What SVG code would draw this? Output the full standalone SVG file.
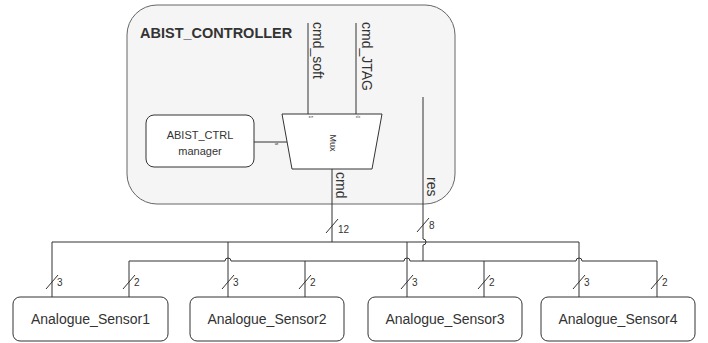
<svg xmlns="http://www.w3.org/2000/svg" width="708" height="343" viewBox="0 0 708 343">
<style>
.box{fill:#fff;stroke:#333;stroke-width:1}
.w{fill:none;stroke:#333;stroke-width:1}
.t{font-family:"Liberation Sans",Arial,sans-serif;fill:#333}
.lbl{font-family:"Liberation Sans",Arial,sans-serif;fill:#333;font-size:14px}
.n{font-family:"Liberation Sans",Arial,sans-serif;fill:#333;font-size:10px}
</style>
<rect width="708" height="343" fill="#fff"/>
<g id="abist_controller">
<rect x="127" y="5" width="328" height="199" rx="30" ry="30" fill="#f5f5f5" stroke="#666"/>
<text class="t" x="140" y="38" font-size="14.5" font-weight="bold">ABIST_CONTROLLER</text>
</g>
<g id="abist_ctrl_manager">
<rect class="box" x="146" y="115" width="108" height="52" rx="8" ry="8"/>
<text class="t" x="200" y="139" font-size="11" text-anchor="middle">ABIST_CTRL</text>
<text class="t" x="200" y="155" font-size="11" text-anchor="middle">manager</text>
</g>
<g id="mux">
<path class="box" d="M282,114 H382 L372,169 H292 Z"/>
<text class="t" font-size="9" text-anchor="middle" transform="translate(330,143) rotate(90)">Mux</text>
<text class="t" font-size="5" text-anchor="middle" transform="translate(309,117) rotate(90)">1</text>
<text class="t" font-size="5" text-anchor="middle" transform="translate(356,117) rotate(90)">0</text>
<text class="t" font-size="5" text-anchor="middle" transform="translate(275,144) rotate(90)">s</text>
</g>
<g id="sensor1">
<rect class="box" x="13" y="297" width="155" height="44" rx="7" ry="7"/>
<text class="t" x="90.5" y="324" font-size="14" text-anchor="middle">Analogue_Sensor1</text>
</g>
<g id="sensor2">
<rect class="box" x="190" y="297" width="154" height="44" rx="7" ry="7"/>
<text class="t" x="267" y="324" font-size="14" text-anchor="middle">Analogue_Sensor2</text>
</g>
<g id="sensor3">
<rect class="box" x="368" y="297" width="154" height="44" rx="7" ry="7"/>
<text class="t" x="445" y="324" font-size="14" text-anchor="middle">Analogue_Sensor3</text>
</g>
<g id="sensor4">
<rect class="box" x="541" y="297" width="154" height="44" rx="7" ry="7"/>
<text class="t" x="618" y="324" font-size="14" text-anchor="middle">Analogue_Sensor4</text>
</g>
<g id="connectors">
<path class="w" d="M308,23 V114"/>
<path class="w" d="M356,23 V114"/>
<path class="w" d="M254,142 H287"/>
<path class="w" d="M332,169 V242"/>
<path class="w" d="M52,297 V242 H579 V297"/>
<path class="w" d="M228,242 V297"/>
<path class="w" d="M407,242 V297"/>
<path class="w" d="M423,97 V239 a3,3 0 0 1 0,6 V261"/>
<path class="w" d="M129,297 V261 H225 a3,3 0 0 1 6,0 H404 a3,3 0 0 1 6,0 H576 a3,3 0 0 1 6,0 H657 V297"/>
<path class="w" d="M305,261 V297"/>
<path class="w" d="M484,261 V297"/>
<text class="lbl" transform="translate(313,22) rotate(90)">cmd_soft</text>
<text class="lbl" transform="translate(362,22) rotate(90)">cmd_JTAG</text>
<text class="lbl" transform="translate(336,172) rotate(90)">cmd</text>
<text class="lbl" transform="translate(427,177) rotate(90)">res</text>
<path class="w" d="M326,233 L338,219"/>
<text class="n" x="338" y="233">12</text>
<path class="w" d="M417,232 L429,218"/>
<text class="n" x="429" y="229">8</text>
<path class="w" d="M46,289 L58,275 M123,289 L135,275 M222,289 L234,275 M299,289 L311,275 M401,289 L413,275 M478,289 L490,275 M573,289 L585,275 M651,289 L663,275"/>
<text class="n" x="57" y="286">3</text>
<text class="n" x="134" y="286">2</text>
<text class="n" x="233" y="286">3</text>
<text class="n" x="310" y="286">2</text>
<text class="n" x="412" y="286">3</text>
<text class="n" x="489" y="286">2</text>
<text class="n" x="584" y="286">3</text>
<text class="n" x="662" y="286">2</text>
</g>
</svg>
